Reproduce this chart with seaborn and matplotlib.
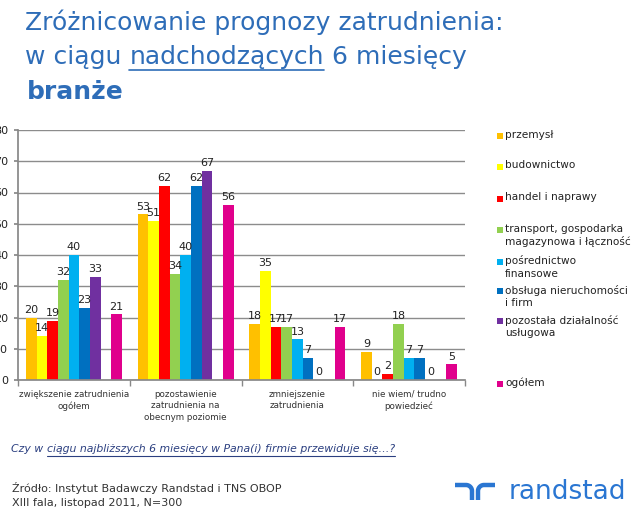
import matplotlib
matplotlib.use("Agg")
import matplotlib.pyplot as plt
import seaborn as sns
import pandas as pd
import numpy as np
from matplotlib.patches import Rectangle
from matplotlib.lines import Line2D

# ---------------- data ----------------
categories = [
    "zwiększenie zatrudnienia\nogółem",
    "pozostawienie\nzatrudnienia na\nobecnym poziomie",
    "zmniejszenie\nzatrudnienia",
    "nie wiem/ trudno\npowiedzieć",
]
series = [
    "przemysł",
    "budownictwo",
    "handel i naprawy",
    "transport, gospodarka\nmagazynowa i łączność",
    "pośrednictwo\nfinansowe",
    "obsługa nieruchomości\ni firm",
    "pozostała działalność\nusługowa",
    " ",
    "ogółem",
]
przemysl = [20, 53, 18, 9]
budownictwo = [14, 51, 35, 0]
handel = [19, 62, 17, 2]
transport = [32, 34, 17, 18]
posrednictwo = [40, 40, 13, 7]
obsluga = [23, 62, 7, 7]
pozostala = [33, 67, 0, 0]
pusta = [np.nan, np.nan, np.nan, np.nan]
ogolem = [21, 56, 17, 5]
values = [przemysl, budownictwo, handel, transport, posrednictwo, obsluga,
          pozostala, pusta, ogolem]
colors = ["#FFC000", "#FFFF00", "#FF0000", "#92D050", "#00B0F0", "#0070C0",
          "#7030A0", "#FFFFFF", "#E0008C"]
yticks = [0, 10, 20, 30, 40, 50, 60, 70, 80]

rows = []
for s, vals in zip(series, values):
    for c, v in zip(categories, vals):
        rows.append({"kategoria": c, "branża": s, "wartość": v})
df = pd.DataFrame(rows)

# ---------------- figure ----------------
sns.set_theme(style="white")
plt.rcParams["font.family"] = ["DejaVu Sans"]

W, H = 640, 513
fig = plt.figure(figsize=(W / 100, H / 100), dpi=100)
fig.patch.set_facecolor("white")

def fx(x):
    return np.asarray(x) / W

def fy(y):
    return 1 - np.asarray(y) / H

ax = fig.add_axes([fx(18), fy(380), fx(465) - fx(18), fy(130) - fy(380)])

palette = dict(zip(series, colors))
sns.barplot(data=df, x="kategoria", y="wartość", hue="branża",
            order=categories, hue_order=series, palette=palette,
            width=0.86, gap=0, dodge=True, legend=False, ax=ax,
            saturation=1, linewidth=0, err_kws={"linewidth": 0})

for cont, s, vals in zip(ax.containers, series, values):
    if s.strip() == "":
        continue
    ax.bar_label(cont, labels=[f"{v:g}" for v in vals], padding=2,
                 fontsize=8, color="#222222")

ax.set_ylim(0, 80)
ax.set_xlim(-0.5, 3.5)
ax.set_yticks(yticks)
ax.set_yticklabels([str(t) for t in yticks], fontsize=8, color="#222222")
ax.yaxis.grid(True, color="#8c8c8c", linewidth=1)
ax.set_axisbelow(True)
ax.set_xlabel("")
ax.set_ylabel("")
ax.set_xticks(range(4))
ax.set_xticklabels(categories, fontsize=6.3, color="#333333", linespacing=1.35)
ax.set_xticks([-0.5, 0.5, 1.5, 2.5, 3.5], minor=True)
ax.tick_params(axis="x", which="major", length=0, pad=7)
ax.tick_params(axis="x", which="minor", length=4, color="#888888", width=1,
               direction="out", bottom=True)
ax.tick_params(axis="y", length=3, color="#888888", pad=4, left=True)
for side in ["top", "right"]:
    ax.spines[side].set_visible(False)
ax.spines["left"].set_color("#888888")
ax.spines["bottom"].set_color("#888888")

# ---------------- legend (manual) ----------------
leg_entries = [
    ("przemysł", 136), ("budownictwo", 167), ("handel i naprawy", 199),
    ("transport, gospodarka\nmagazynowa i łączność", 230),
    ("pośrednictwo\nfinansowe", 262),
    ("obsługa nieruchomości\ni firm", 291),
    ("pozostała działalność\nusługowa", 321),
    ("ogółem", 384),
]
for (lab, yc) in leg_entries:
    col = palette[lab]
    fig.patches.append(Rectangle((fx(497), fy(yc + 3)), 6 / W, 6 / H,
                                 transform=fig.transFigure, facecolor=col,
                                 edgecolor="none"))
    fig.text(fx(505), fy(yc - 6.5), lab, fontsize=7.6, color="#222222",
             va="top", ha="left", linespacing=1.3)

# ---------------- title ----------------
title_color = "#2E6DB8"
tfs = 18
fig.text(fx(25), fy(22), "Zróżnicowanie prognozy zatrudnienia:", fontsize=tfs,
         color=title_color, va="center", ha="left")
fig.canvas.draw()
r = fig.canvas.get_renderer()
t1 = fig.text(fx(25), fy(57), "w ciągu ", fontsize=tfs, color=title_color,
              va="center", ha="left")
bb1 = t1.get_window_extent(r)
t2 = fig.text(bb1.x1 / W, fy(57), "nadchodzących", fontsize=tfs,
              color=title_color, va="center", ha="left")
bb2 = t2.get_window_extent(r)
fig.text(bb2.x1 / W, fy(57), " 6 miesięcy", fontsize=tfs, color=title_color,
         va="center", ha="left")
fig.lines.append(Line2D([bb2.x0 / W, bb2.x1 / W], [fy(70), fy(70)],
                        transform=fig.transFigure, color=title_color, lw=1.2))
fig.text(fx(27), fy(92), "branże", fontsize=tfs, color=title_color,
         va="center", ha="left", fontweight="bold")

# ---------------- question ----------------
qcol = "#2B3F80"
qfs = 7.8
q1 = fig.text(fx(11), fy(449), "Czy w ", fontsize=qfs, color=qcol,
              style="italic", va="center", ha="left")
qb = q1.get_window_extent(r)
q2 = fig.text(qb.x1 / W, fy(449),
              "ciągu najbliższych 6 miesięcy w Pana(i) firmie przewiduje się…?",
              fontsize=qfs, color=qcol, style="italic", va="center", ha="left")
qb2 = q2.get_window_extent(r)
fig.lines.append(Line2D([qb2.x0 / W, qb2.x1 / W], [fy(456), fy(456)],
                        transform=fig.transFigure, color=qcol, lw=0.8))

# ---------------- source ----------------
fig.text(fx(12), fy(488), "Źródło: Instytut Badawczy Randstad i TNS OBOP",
         fontsize=8, color="#333333", va="center", ha="left")
fig.text(fx(12), fy(503), "XIII fala, listopad 2011, N=300",
         fontsize=8, color="#333333", va="center", ha="left")

# ---------------- logo ----------------
logo = "#2A76D2"
fig.text(fx(509), fy(492), "randstad", fontsize=19, color=logo,
         va="center", ha="left")
th = np.linspace(0, np.pi / 2, 20)
lx = np.r_[455, 466, 466 + 6 * np.sin(th), 472]
ly = np.r_[485, 485, 485 + 6 * (1 - np.cos(th)), 500]
fig.lines.append(Line2D(fx(lx), fy(ly), transform=fig.transFigure,
                        color=logo, lw=3.2, solid_capstyle="butt"))
rx = np.r_[478, 478, 478 + 6 * (1 - np.cos(th)), 495]
ry = np.r_[500, 491, 491 - 6 * np.sin(th), 485]
fig.lines.append(Line2D(fx(rx), fy(ry), transform=fig.transFigure,
                        color=logo, lw=3.2, solid_capstyle="butt"))

fig.savefig("out.png", dpi=100, facecolor="white")
